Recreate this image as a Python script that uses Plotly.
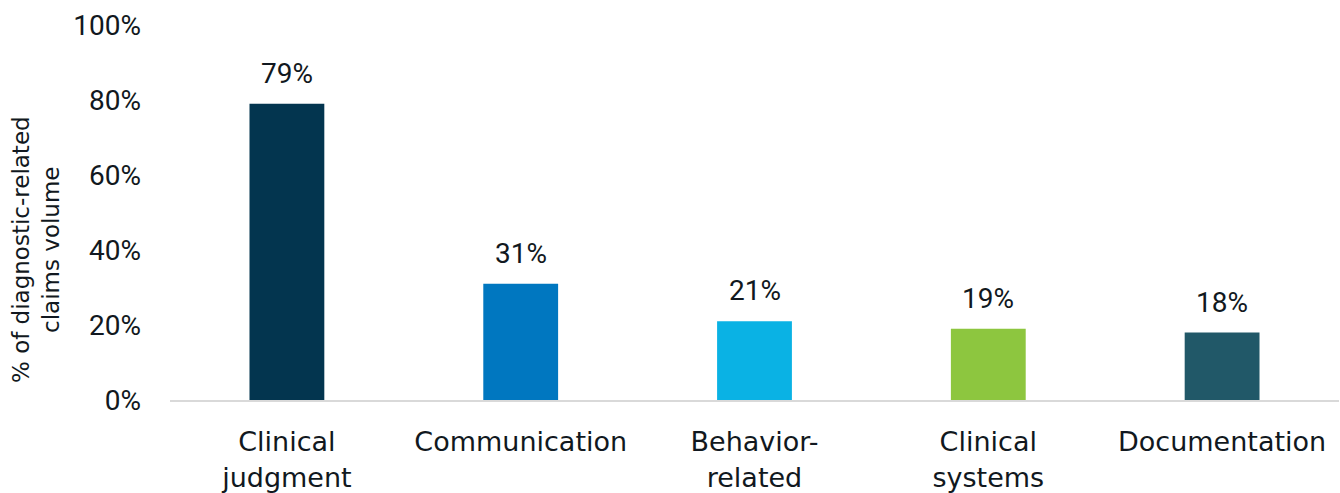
import plotly.graph_objects as go

categories = ["Clinical<br>judgment", "Communication", "Behavior-<br>related", "Clinical<br>systems", "Documentation"]
values = [0.79, 0.31, 0.21, 0.19, 0.18]
value_labels = ["79%", "31%", "21%", "19%", "18%"]
bar_colors = ["#03354F", "#0077C0", "#0AB2E4", "#8DC63F", "#215868"]
y_ticks = [0, 0.2, 0.4, 0.6, 0.8, 1.0]
y_tick_labels = ["0%", "20%", "40%", "60%", "80%", "100%"]

FONT = "DejaVu Sans"
NUMFONT = "Roboto"
TXT = "#111820"

fig = go.Figure()
fig.add_trace(go.Bar(
    x=categories, y=values, marker=dict(color=bar_colors, line=dict(width=0)),
    width=0.32, hoverinfo="skip",
))

for c, v, t in zip(categories, values, value_labels):
    fig.add_annotation(x=c, y=v, text=t, showarrow=False, yanchor="bottom",
                       yshift=12, font=dict(family=NUMFONT, size=28, color=TXT))

fig.add_annotation(xref="paper", yref="paper", x=-0.1146, y=0.40,
                   xanchor="center", yanchor="middle",
                   text="% of diagnostic-related<br>claims volume", textangle=-90,
                   showarrow=False, font=dict(family=FONT, size=23, color=TXT))

fig.update_layout(
    width=1340, height=493,
    margin=dict(l=170, r=1, t=25, b=93),
    paper_bgcolor="white", plot_bgcolor="white",
    showlegend=False,
    font=dict(family=FONT, size=25, color=TXT),
    xaxis=dict(showgrid=False, showline=True, linecolor="#D9D9D9", linewidth=2,
               ticks="", ticklabelstandoff=17,
               tickfont=dict(family=FONT, size=27, color=TXT),
               range=[-0.5, 4.5], zeroline=False),
    yaxis=dict(range=[0, 1.0], tickvals=y_ticks, ticktext=y_tick_labels,
               showgrid=False, showline=False, zeroline=False, ticks="",
               ticklabelstandoff=28,
               tickfont=dict(family=NUMFONT, size=28, color=TXT)),
)

fig.write_html("out.html")
